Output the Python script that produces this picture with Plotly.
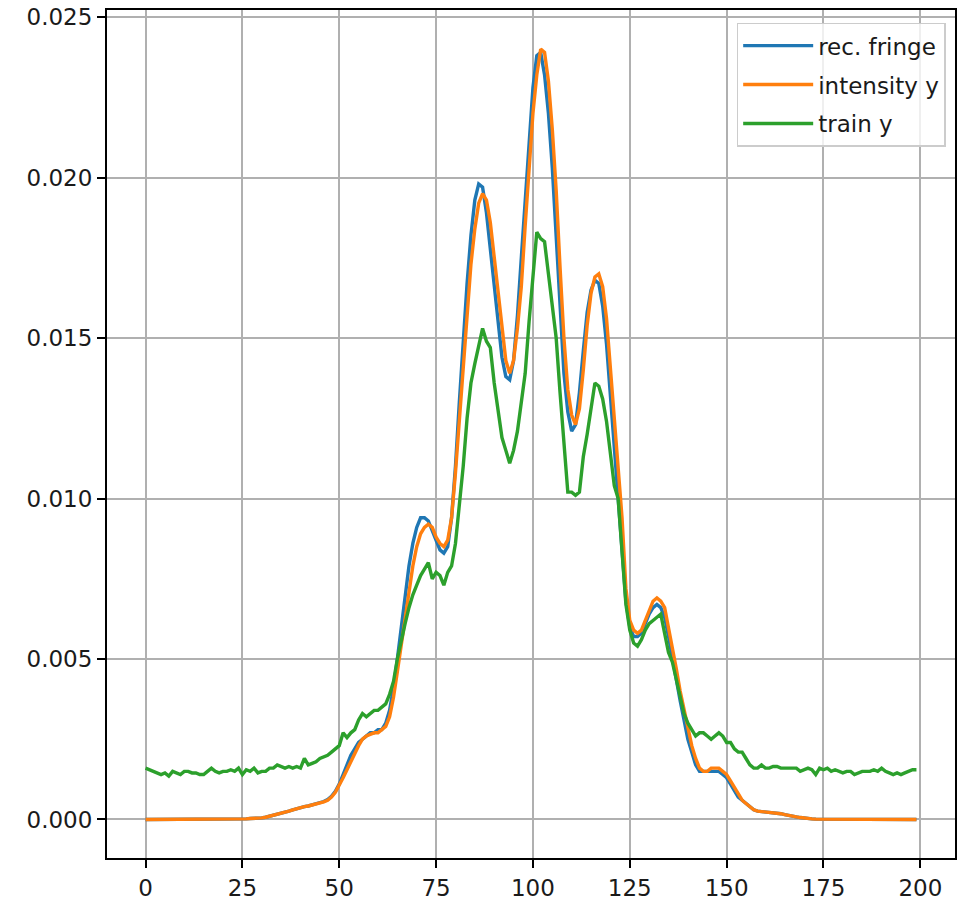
import plotly.graph_objects as go

x_index = list(range(200))

rec_fringe = [
    0, 0, 0, 0, 0, 0, 0, 0, 0, 0,
    0, 0, 0, 0, 0, 0, 0, 0, 0, 0,
    0, 0.00001, 0.00001, 0.00001, 0.00002, 0.00002, 0.00002, 0.00003, 0.00003, 0.00004,
    0.00005, 0.00007, 0.0001, 0.00012, 0.00015, 0.00018, 0.00022, 0.00026, 0.0003, 0.00034,
    0.00037, 0.0004, 0.00042, 0.00045, 0.00048, 0.00052, 0.00056, 0.00062, 0.00072, 0.00088,
    0.0011, 0.0014, 0.0017, 0.002, 0.0022, 0.0024, 0.0025, 0.0026, 0.0027, 0.0027,
    0.0028, 0.0028, 0.003, 0.0034, 0.0041, 0.005, 0.0059, 0.0069, 0.0079, 0.0086,
    0.0091, 0.0094, 0.0094, 0.0093, 0.009, 0.0087, 0.0084, 0.0083, 0.0085, 0.0094,
    0.011, 0.013, 0.015, 0.0167, 0.0182, 0.0193, 0.0198, 0.0197, 0.0189, 0.0178,
    0.0166, 0.0154, 0.0144, 0.0138, 0.0137, 0.0143, 0.0157, 0.0175, 0.0194, 0.0212,
    0.0228, 0.0238, 0.0239, 0.0232, 0.022, 0.0203, 0.018, 0.0158, 0.0139, 0.0127,
    0.0121, 0.0123, 0.0133, 0.0146, 0.0158, 0.0165, 0.0168, 0.0167, 0.016, 0.0148,
    0.0132, 0.0116, 0.01, 0.0085, 0.0068, 0.006, 0.0057, 0.0057, 0.0058, 0.0061,
    0.0064, 0.0066, 0.0067, 0.0066, 0.0063, 0.0057, 0.005, 0.0043, 0.0037, 0.0031,
    0.0025, 0.0021, 0.0017, 0.0015, 0.0015, 0.0015, 0.0015, 0.0015, 0.0015, 0.0014,
    0.0013, 0.0011, 0.0009, 0.0007, 0.0006, 0.0005, 0.0004, 0.0003, 0.00026, 0.00025,
    0.00024, 0.00023, 0.00022, 0.0002, 0.00018, 0.00015, 0.00012, 0.0001, 0.00008, 0.00006,
    0.00004, 0.00003, 0.00002, 0.00001, 0.00001, 0, 0, 0, 0, 0,
    0, 0, 0, 0, 0, 0, 0, 0, 0, 0,
    0, 0, 0, 0, 0, 0, 0, 0, 0, 0,
]

intensity_y = [
    0, 0, 0, 0, 0, 0, 0, 0, 0, 0,
    0, 0, 0, 0, 0, 0, 0, 0, 0, 0,
    0, 0.00001, 0.00001, 0.00001, 0.00002, 0.00002, 0.00002, 0.00003, 0.00003, 0.00004,
    0.00005, 0.00007, 0.0001, 0.00012, 0.00015, 0.00018, 0.00022, 0.00026, 0.0003, 0.00034,
    0.00037, 0.0004, 0.00042, 0.00045, 0.00048, 0.00052, 0.00055, 0.0006, 0.0007, 0.00085,
    0.00105, 0.0013, 0.00155, 0.0018, 0.0021, 0.0023, 0.0025, 0.0026, 0.00265, 0.0027,
    0.0027, 0.0028, 0.0029, 0.0032, 0.0038, 0.0046, 0.0054, 0.0062, 0.0071, 0.0079,
    0.0085, 0.0089, 0.0091, 0.0092, 0.0091, 0.0088, 0.0086, 0.0085, 0.0087, 0.0094,
    0.0108, 0.0125, 0.0142, 0.0157, 0.0173, 0.0184, 0.0192, 0.0195, 0.0193, 0.0186,
    0.0175, 0.0163, 0.0152, 0.0143, 0.0139, 0.0143, 0.0153, 0.0166, 0.0185, 0.0204,
    0.022, 0.0232, 0.024, 0.0239, 0.023, 0.0215, 0.0196, 0.0172, 0.015, 0.0134,
    0.0126, 0.0123, 0.0128, 0.014, 0.0154, 0.0164, 0.0169, 0.017, 0.0166, 0.0156,
    0.0141, 0.0125, 0.0108, 0.0094, 0.0072, 0.0062, 0.0059, 0.0058, 0.0059, 0.0062,
    0.0065, 0.0068, 0.0069, 0.0068, 0.0066, 0.006, 0.0053, 0.0047, 0.004, 0.0034,
    0.0028, 0.0023, 0.0019, 0.0016, 0.0015, 0.0015, 0.0016, 0.0016, 0.0016, 0.0015,
    0.0014, 0.0012, 0.001, 0.0008, 0.0006, 0.0005, 0.0004, 0.0003, 0.00026, 0.00025,
    0.00024, 0.00023, 0.00022, 0.0002, 0.00018, 0.00015, 0.00012, 0.0001, 0.00008, 0.00006,
    0.00004, 0.00003, 0.00002, 0.00001, 0.00001, 0, 0, 0, 0, 0,
    0, 0, 0, 0, 0, 0, 0, 0, 0, 0,
    0, 0, 0, 0, 0, 0, 0, 0, 0, 0,
]

train_y = [
    0.0016, 0.00155, 0.0015, 0.00145, 0.0014, 0.00145, 0.00135, 0.0015, 0.00145, 0.0014,
    0.0015, 0.0015, 0.00145, 0.00145, 0.0014, 0.0014, 0.0015, 0.0016, 0.0015, 0.00145,
    0.0015, 0.0015, 0.00155, 0.0015, 0.0016, 0.0014, 0.00155, 0.0015, 0.0016, 0.00145,
    0.0015, 0.0015, 0.0016, 0.0016, 0.0017, 0.00165, 0.0016, 0.00165, 0.0016, 0.00165,
    0.0016, 0.0019, 0.0017, 0.00175, 0.0018, 0.0019, 0.00195, 0.002, 0.0021, 0.0022,
    0.0023, 0.0027, 0.00255, 0.0027, 0.0028, 0.0031, 0.0033, 0.0032, 0.0033, 0.0034,
    0.0034, 0.0035, 0.0036, 0.0039, 0.0043, 0.005, 0.0056, 0.0061, 0.0066, 0.007,
    0.0073, 0.0076, 0.0078, 0.008, 0.0075, 0.0077, 0.0076, 0.0073, 0.0077, 0.0079,
    0.0086, 0.0097, 0.011, 0.0125, 0.0136, 0.0142, 0.0148, 0.0153, 0.0149, 0.0147,
    0.0136, 0.0127, 0.0119, 0.0115, 0.0111, 0.0115, 0.0121, 0.013, 0.0139, 0.0155,
    0.017, 0.0183, 0.0181, 0.018, 0.017, 0.016, 0.015, 0.0133, 0.0116, 0.0102,
    0.0102, 0.0101, 0.0102, 0.0113, 0.012, 0.0128, 0.0136, 0.0135, 0.0131, 0.0124,
    0.0114, 0.0104, 0.01, 0.0082, 0.0067, 0.0059, 0.0055, 0.0054, 0.0056, 0.0059,
    0.0061, 0.0062, 0.0063, 0.0064, 0.0058, 0.0052, 0.0049, 0.0044, 0.0038, 0.0033,
    0.003, 0.0028, 0.0026, 0.0027, 0.0027, 0.0026, 0.0025, 0.0026, 0.0027, 0.0026,
    0.0024, 0.0024, 0.0022, 0.0021, 0.0021, 0.0019, 0.0017, 0.0016, 0.0016, 0.0017,
    0.0016, 0.0016, 0.00165, 0.00165, 0.0016, 0.0016, 0.0016, 0.0016, 0.0016, 0.0015,
    0.00155, 0.0016, 0.00155, 0.0014, 0.0016, 0.00155, 0.0016, 0.0015, 0.00155, 0.0015,
    0.00145, 0.0015, 0.0015, 0.0014, 0.00145, 0.0015, 0.0015, 0.0015, 0.00155, 0.0015,
    0.0016, 0.0015, 0.00145, 0.0014, 0.00145, 0.0014, 0.00145, 0.0015, 0.00155, 0.00155,
]

x_ticks = [0, 25, 50, 75, 100, 125, 150, 175, 200]
y_ticks = [0.000, 0.005, 0.010, 0.015, 0.020, 0.025]

series = [
    ("rec. fringe", rec_fringe, "#1f77b4"),
    ("intensity y", intensity_y, "#ff7f0e"),
    ("train y", train_y, "#2ca02c"),
]

fig = go.Figure()
for name, vals, color in series:
    fig.add_trace(go.Scatter(x=x_index, y=vals, mode="lines", name=name, legendgroup=name,
                             line=dict(color=color, width=3.4)))

W, H = 958, 903
fig.update_layout(
    width=W, height=H,
    margin=dict(l=107, r=1, t=10, b=45),
    paper_bgcolor="white", plot_bgcolor="white",
    font=dict(family="DejaVu Sans", size=23, color="#1a1a1a"),
    showlegend=True,
    legend=dict(x=0.989, y=0.985, xanchor="right", yanchor="top",
                bgcolor="rgba(255,255,255,0.8)", bordercolor="#cccccc", borderwidth=1.5,
                font=dict(family="DejaVu Sans", size=23, color="#1a1a1a"),
                tracegroupgap=6, itemwidth=70),
)
fig.update_xaxes(range=[-9.95, 208.95], tickvals=x_ticks, ticks="outside", ticklen=8, tickwidth=2,
                 tickcolor="black", showline=True, linecolor="black", linewidth=2, mirror=True,
                 showgrid=True, gridcolor="#b0b0b0", gridwidth=2, zeroline=False)
fig.update_yaxes(range=[-0.0012, 0.02522], tickvals=y_ticks, tickformat=".3f", ticks="outside",
                 ticklen=8, tickwidth=2, tickcolor="black", showline=True, linecolor="black",
                 linewidth=2, mirror=True, showgrid=True, gridcolor="#b0b0b0", gridwidth=2,
                 zeroline=False)

fig.write_html("out.html")
